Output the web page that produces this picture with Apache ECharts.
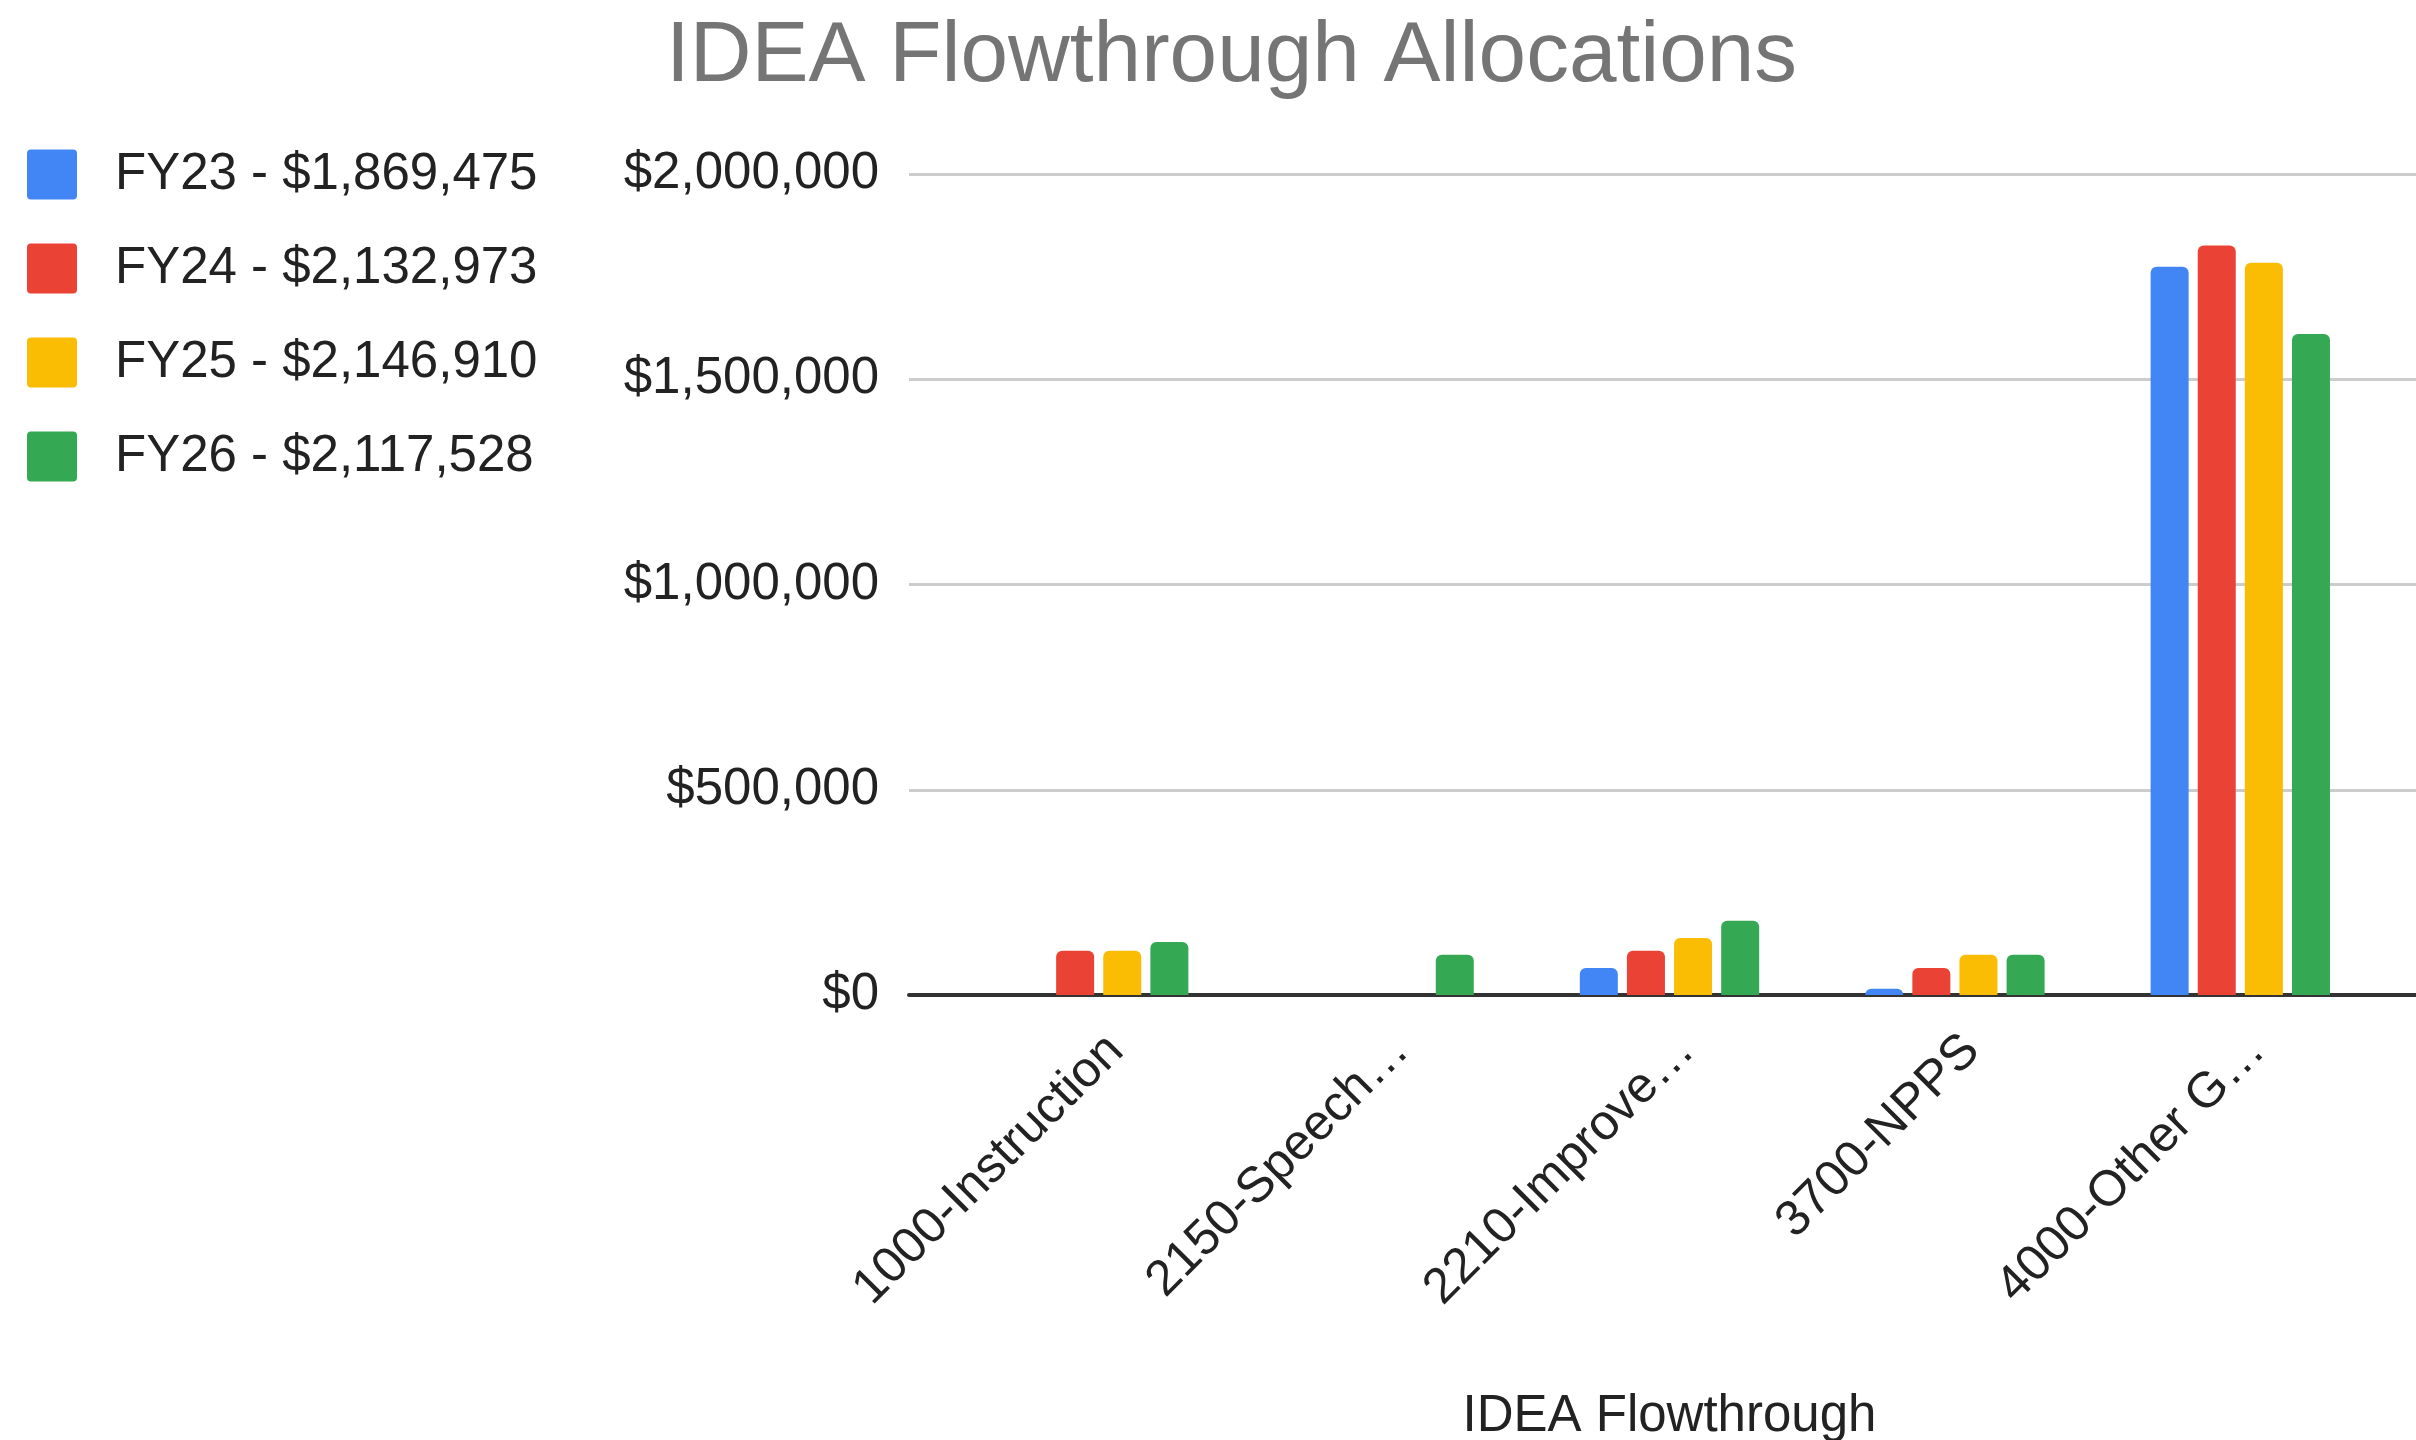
<!DOCTYPE html>
<html>
<head>
<meta charset="utf-8">
<title>IDEA Flowthrough Allocations</title>
<script src="https://cdn.jsdelivr.net/npm/echarts@6/dist/echarts.min.js"></script>
<style>
  html, body { margin: 0; padding: 0; background: #ffffff; }
  #chart { width: 2416px; height: 1440px; }
</style>
</head>
<body>
<div id="chart"></div>
<script>
// Function categories along the x axis
const categories = ['1000-Instruction', '2150-Speech…', '2210-Improve…', '3700-NPPS', '4000-Other G…'];

// Series names (with fiscal-year totals) as shown in the legend
const seriesNames = ['FY23 - $1,869,475', 'FY24 - $2,132,973', 'FY25 - $2,146,910', 'FY26 - $2,117,528'];

// Allocation amounts per category, one array per fiscal year
const fy23 = [0, 0, 66000, 15000, 1774000];
const fy24 = [108000, 0, 108000, 66000, 1826000];
const fy25 = [108000, 0, 139000, 98000, 1784000];
const fy26 = [129000, 98000, 181000, 98000, 1610000];

// Value axis ticks
const yTicks = [0, 500000, 1000000, 1500000, 2000000];

const colors = ['#4285F4', '#EA4335', '#FBBC04', '#34A853'];
const seriesValues = [fy23, fy24, fy25, fy26];

const FONT = '"Liberation Sans", Arial, Helvetica, sans-serif';
const TEXT = '#222222';

const plotTop = 174;
const plotBottom = 445;
const yMin = yTicks[0];
const yMax = yTicks[yTicks.length - 1];
const yStep = yTicks[1] - yTicks[0];

const money = v => '$' + v.toLocaleString('en-US');

const chart = echarts.init(document.getElementById('chart'), null, { renderer: 'canvas' });

// fixed plot rectangles; labels are allowed to sit outside them
const gridBase = { top: plotTop, bottom: plotBottom, outerBoundsMode: 'none', containLabel: false };

chart.setOption({
  backgroundColor: '#ffffff',
  animation: false,
  textStyle: { fontFamily: FONT },
  title: {
    text: 'IDEA Flowthrough Allocations',
    left: 661,
    top: 9,
    textStyle: { fontFamily: FONT, fontSize: 85.5, fontWeight: 'normal', color: '#757575' }
  },
  legend: {
    orient: 'vertical',
    left: 22,
    top: 144,
    itemWidth: 50,
    itemHeight: 50,
    itemGap: 43,
    icon: 'path://M4,0 H46 A4,4 0 0 1 50,4 V46 A4,4 0 0 1 46,50 H4 A4,4 0 0 1 0,46 V4 A4,4 0 0 1 4,0 Z',
    textStyle: { fontFamily: FONT, fontSize: 51, color: TEXT, padding: [0, 0, 0, 33] },
    data: seriesNames
  },
  grid: [
    // gridlines and value labels
    Object.assign({ left: 909, right: 0 }, gridBase),
    // bars
    Object.assign({ left: 956, right: 33 }, gridBase),
    // slanted category labels
    Object.assign({ left: 973, right: 16 }, gridBase)
  ],
  xAxis: [
    {
      gridIndex: 0, type: 'value', min: 0, max: 1,
      axisLine: { show: true, lineStyle: { color: '#333333', width: 4 } },
      axisTick: { show: false }, axisLabel: { show: false }, splitLine: { show: false }
    },
    {
      gridIndex: 1, type: 'category', data: categories,
      name: 'IDEA Flowthrough', nameLocation: 'middle', nameGap: 396,
      nameTextStyle: { fontFamily: FONT, fontSize: 51, color: TEXT },
      axisLine: { show: false }, axisTick: { show: false }, axisLabel: { show: false }
    },
    {
      gridIndex: 2, type: 'category', data: categories,
      axisLine: { show: false }, axisTick: { show: false },
      axisLabel: {
        rotate: 45, margin: 48, interval: 0,
        fontFamily: FONT, fontSize: 50, color: TEXT
      }
    }
  ],
  yAxis: [
    {
      gridIndex: 0, type: 'value', min: yMin, max: yMax, interval: yStep,
      axisLine: { show: false }, axisTick: { show: false },
      axisLabel: { margin: 30, fontFamily: FONT, fontSize: 51, color: TEXT, formatter: money },
      splitLine: { show: true, lineStyle: { color: '#cccccc', width: 3 } }
    },
    {
      gridIndex: 1, type: 'value', min: yMin, max: yMax, interval: yStep, show: false
    },
    {
      gridIndex: 2, type: 'value', min: yMin, max: yMax, interval: yStep, show: false
    }
  ],
  series: seriesNames.map((name, i) => ({
    name: name,
    type: 'bar',
    xAxisIndex: 1,
    yAxisIndex: 1,
    data: seriesValues[i],
    barWidth: 38,
    barGap: '24%',
    itemStyle: { color: colors[i], borderRadius: [6, 6, 0, 0] }
  }))
});
</script>
</body>
</html>
